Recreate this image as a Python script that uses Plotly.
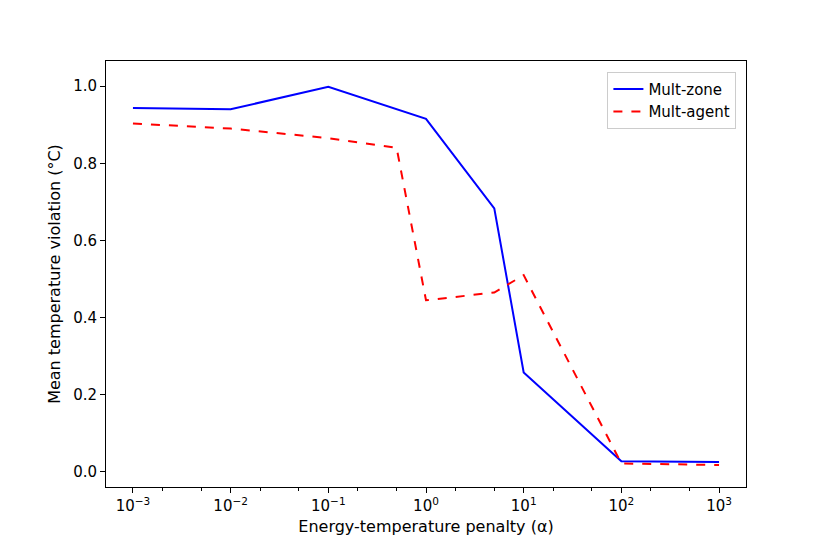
import plotly.graph_objects as go

# penalty values and mean violations
alpha_zone = [1e-3, 1e-2, 1e-1, 1, 5, 10, 100, 1000]
viol_zone = [0.943, 0.940, 0.998, 0.915, 0.683, 0.258, 0.028, 0.026]
alpha_agent = [1e-3, 1e-2, 1e-1, 0.5, 1, 5, 10, 100, 1000]
viol_agent = [0.903, 0.890, 0.865, 0.840, 0.445, 0.465, 0.510, 0.022, 0.018]

tick_vals = [1e-3, 1e-2, 1e-1, 1, 10, 100, 1000]
tick_text = ['10<sup>\u22123</sup>', '10<sup>\u22122</sup>', '10<sup>\u22121</sup>',
             '10<sup>0</sup>', '10<sup>1</sup>', '10<sup>2</sup>', '10<sup>3</sup>']

fig = go.Figure()
fig.add_trace(go.Scatter(x=alpha_zone, y=viol_zone, mode='lines', name='Mult-zone',
                         line=dict(color='blue', width=2)))
fig.add_trace(go.Scatter(x=alpha_agent, y=viol_agent, mode='lines', name='Mult-agent',
                         line=dict(color='red', width=2, dash='dash')))

axis_style = dict(showline=True, linecolor='black', linewidth=1, mirror=True,
                  ticks='outside', tickcolor='black', ticklen=5, showgrid=False,
                  zeroline=False, tickfont=dict(size=15, color='black'))
fig.update_xaxes(type='log', range=[-3.276, 3.276], tickvals=tick_vals, ticktext=tick_text,
                 minor=dict(ticks='outside', ticklen=3, tickcolor='black'),
                 title=dict(text='Energy-temperature penalty (\u03b1)', standoff=6,
                            font=dict(size=16, color='black')), **axis_style)
fig.update_yaxes(range=[-0.039, 1.065], tickvals=[0, 0.2, 0.4, 0.6, 0.8, 1.0],
                 tickformat='.1f',
                 title=dict(text='Mean temperature violation (\u00b0C)', standoff=8,
                            font=dict(size=16, color='black')), **axis_style)
fig.update_layout(width=830, height=554, plot_bgcolor='white', paper_bgcolor='white',
                  font=dict(family='DejaVu Sans', color='black'),
                  margin=dict(l=98, r=92, t=53, b=75),
                  legend=dict(x=0.985, y=0.975, xanchor='right', yanchor='top',
                              bordercolor='#cccccc', borderwidth=1,
                              font=dict(size=15)))
fig.write_html('out.html')
